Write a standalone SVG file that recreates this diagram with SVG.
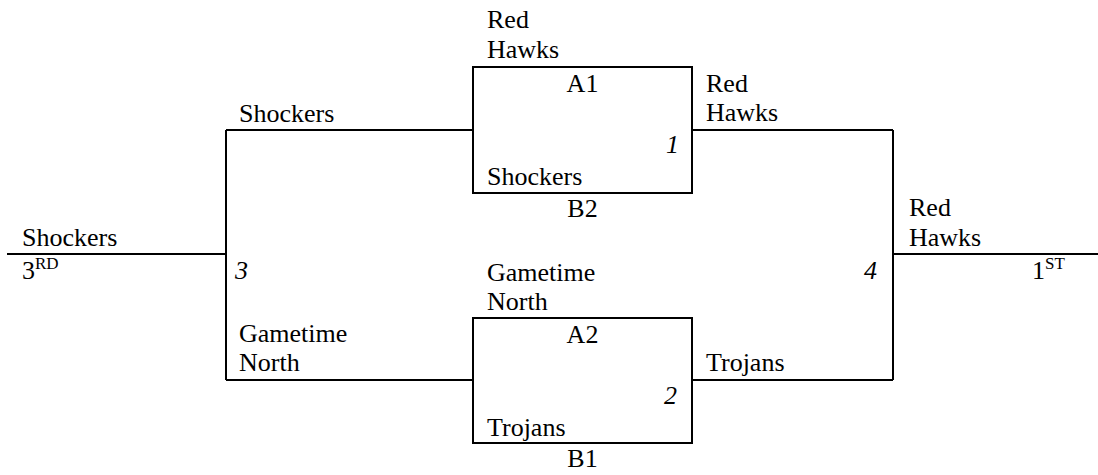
<svg xmlns="http://www.w3.org/2000/svg" width="1098" height="475" viewBox="0 0 1098 475">
<style>
text{font-family:"Times New Roman","Liberation Serif",Times,"DejaVu Serif",serif;font-size:26px;fill:#000}
.i{font-style:italic}
.m{text-anchor:middle}
.sup{font-size:17px}
.ln{fill:none;stroke:#000;stroke-width:2}
.box{fill:#fff;stroke:#000;stroke-width:2}
</style>
<rect width="1098" height="475" fill="#fff"/>
<g id="connectors">
<path class="ln" d="M7,254 H226"/>
<path class="ln" d="M226,130 V380"/>
<path class="ln" d="M226,130 H473"/>
<path class="ln" d="M226,380 H473"/>
<path class="ln" d="M692,130 H893"/>
<path class="ln" d="M692,380 H893"/>
<path class="ln" d="M893,130 V380"/>
<path class="ln" d="M893,254 H1098"/>
</g>
<g id="third-place">
<text x="22" y="246">Shockers</text>
<text x="22" y="279">3<tspan class="sup" dy="-10">RD</tspan></text>
</g>
<g id="game3">
<text x="239" y="122">Shockers</text>
<text class="i" x="235" y="279">3</text>
<text x="239" y="342">Gametime</text>
<text x="239" y="371">North</text>
</g>
<g id="game1">
<text x="487" y="28">Red</text>
<text x="487" y="58">Hawks</text>
<rect class="box" x="473" y="67" width="219" height="126"/>
<text class="m" x="582.5" y="92">A1</text>
<text class="i" x="666" y="153">1</text>
<text x="487" y="185">Shockers</text>
<text class="m" x="582.5" y="217">B2</text>
</g>
<g id="game2">
<text x="487" y="281">Gametime</text>
<text x="487" y="310">North</text>
<rect class="box" x="473" y="318" width="219" height="125"/>
<text class="m" x="582.5" y="343">A2</text>
<text class="i" x="664" y="404">2</text>
<text x="487" y="436">Trojans</text>
<text class="m" x="582.5" y="467">B1</text>
</g>
<g id="game4">
<text x="706" y="92">Red</text>
<text x="706" y="121">Hawks</text>
<text x="706" y="371">Trojans</text>
<text class="i" x="864" y="279">4</text>
</g>
<g id="first-place">
<text x="909" y="216">Red</text>
<text x="909" y="246">Hawks</text>
<text x="1032" y="279">1<tspan class="sup" dy="-10">ST</tspan></text>
</g>
</svg>
